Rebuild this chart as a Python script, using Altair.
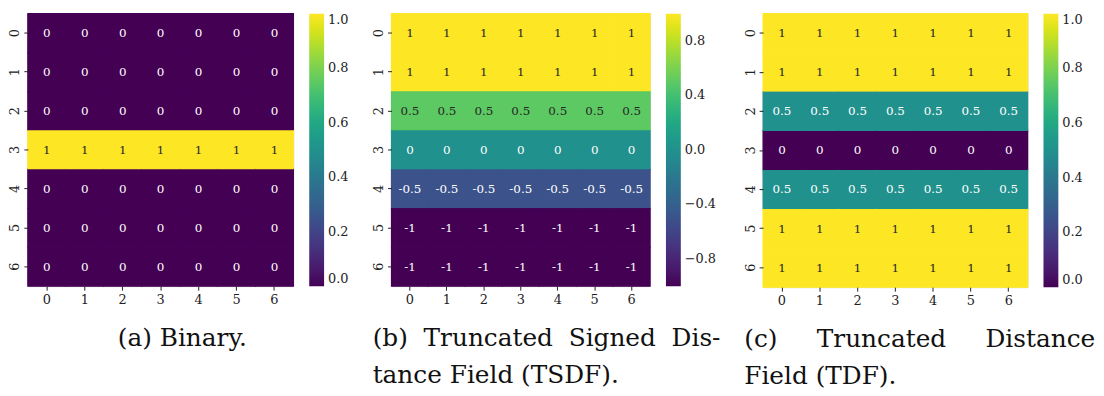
import altair as alt
import pandas as pd

rows = [0, 1, 2, 3, 4, 5, 6]
cols = [0, 1, 2, 3, 4, 5, 6]

binary = [
    [0, 0, 0, 0, 0, 0, 0],
    [0, 0, 0, 0, 0, 0, 0],
    [0, 0, 0, 0, 0, 0, 0],
    [1, 1, 1, 1, 1, 1, 1],
    [0, 0, 0, 0, 0, 0, 0],
    [0, 0, 0, 0, 0, 0, 0],
    [0, 0, 0, 0, 0, 0, 0],
]
tsdf = [
    [1, 1, 1, 1, 1, 1, 1],
    [1, 1, 1, 1, 1, 1, 1],
    [0.5, 0.5, 0.5, 0.5, 0.5, 0.5, 0.5],
    [0, 0, 0, 0, 0, 0, 0],
    [-0.5, -0.5, -0.5, -0.5, -0.5, -0.5, -0.5],
    [-1, -1, -1, -1, -1, -1, -1],
    [-1, -1, -1, -1, -1, -1, -1],
]
tdf = [
    [1, 1, 1, 1, 1, 1, 1],
    [1, 1, 1, 1, 1, 1, 1],
    [0.5, 0.5, 0.5, 0.5, 0.5, 0.5, 0.5],
    [0, 0, 0, 0, 0, 0, 0],
    [0.5, 0.5, 0.5, 0.5, 0.5, 0.5, 0.5],
    [1, 1, 1, 1, 1, 1, 1],
    [1, 1, 1, 1, 1, 1, 1],
]

ticks_01 = [0.0, 0.2, 0.4, 0.6, 0.8, 1.0]
ticks_pm = [-0.8, -0.4, 0.0, 0.4, 0.8]

NB = "\u00a0"
cap_a = ["(a) Binary."]
cap_b = ["(b)" + NB * 2 + "Truncated" + NB * 2 + "Signed" + NB * 2 + "Dis-", "tance Field (TSDF)."]
cap_c = ["(c)" + NB * 5 + "Truncated" + NB * 5 + "Distance", "Field (TDF)."]

FONT = "'DejaVu Serif', serif"


def panel(grid, lo, hi, ticks, width, height, caption, anchor, dx):
    df = pd.DataFrame(
        [
            {"row": r, "col": c, "v": grid[r][c], "label": f"{grid[r][c]:g}"}
            for r in rows
            for c in cols
        ]
    )
    sc = alt.Scale(paddingInner=0, paddingOuter=0)
    base = alt.Chart(df).encode(
        x=alt.X(
            "col:O",
            scale=sc,
            axis=alt.Axis(
                title=None, labelAngle=0, domain=False, tickSize=4, tickColor="#222",
                labelFont=FONT, labelFontSize=13, labelColor="#222", labelPadding=3,
            ),
        ),
        y=alt.Y(
            "row:O",
            scale=sc,
            axis=alt.Axis(
                title=None, labelAngle=270, domain=False, tickSize=4, tickColor="#222",
                labelFont=FONT, labelFontSize=13, labelColor="#222", labelPadding=2,
                labelAlign="center", labelBaseline="bottom",
            ),
        ),
    )
    under = (
        base.transform_calculate(vs="datum.v")
        .mark_rect(strokeWidth=1.2, fillOpacity=0)
        .encode(
            stroke=alt.Stroke(
                "vs:Q", scale=alt.Scale(scheme="viridis", domain=[lo, hi]), legend=None
            ),
        )
    )
    rect = base.mark_rect().encode(
        color=alt.Color(
            "v:Q",
            scale=alt.Scale(scheme="viridis", domain=[lo, hi]),
            legend=alt.Legend(
                title=None, type="gradient", direction="vertical",
                gradientLength=height, gradientThickness=15, offset=16,
                values=ticks, format=".1f", labelFont=FONT, labelFontSize=13,
                labelColor="#222", labelBaseline="middle", labelOffset=4,
                gradientStrokeWidth=0,
            ),
        ),
    )
    text = base.mark_text(font=FONT, fontSize=12).encode(
        text="label:N",
        color=alt.condition(
            f"(datum.v - ({lo})) / ({hi - lo}) > 0.6",
            alt.value("#262626"),
            alt.value("#ffffff"),
        ),
    )
    return (
        alt.layer(under, rect, text)
        .resolve_scale(color="independent", stroke="independent")
        .properties(
            width=width,
            height=height,
            title=alt.TitleParams(
                caption, orient="bottom", anchor=anchor, font=FONT, fontSize=25,
                fontWeight="normal", color="#111", lineHeight=38, offset=20, dx=dx,
            ),
        )
    )


pa = panel(binary, 0, 1, ticks_01, 268, 275, cap_a, "middle", 22)
pb = panel(tsdf, -1, 1, ticks_pm, 261, 275, cap_b, "start", 0)
pc = panel(tdf, 0, 1, ticks_01, 267, 276, cap_c, "start", 0)

chart = (
    alt.hconcat(pa, pb, pc, spacing=22)
    .resolve_scale(color="independent", stroke="independent")
    .properties(padding={"left": 0, "top": 2, "right": 0, "bottom": 0})
    .configure_view(stroke=None)
    .configure(background="white")
)

chart.save("out.html", embed_options={"renderer": "svg", "actions": False})
